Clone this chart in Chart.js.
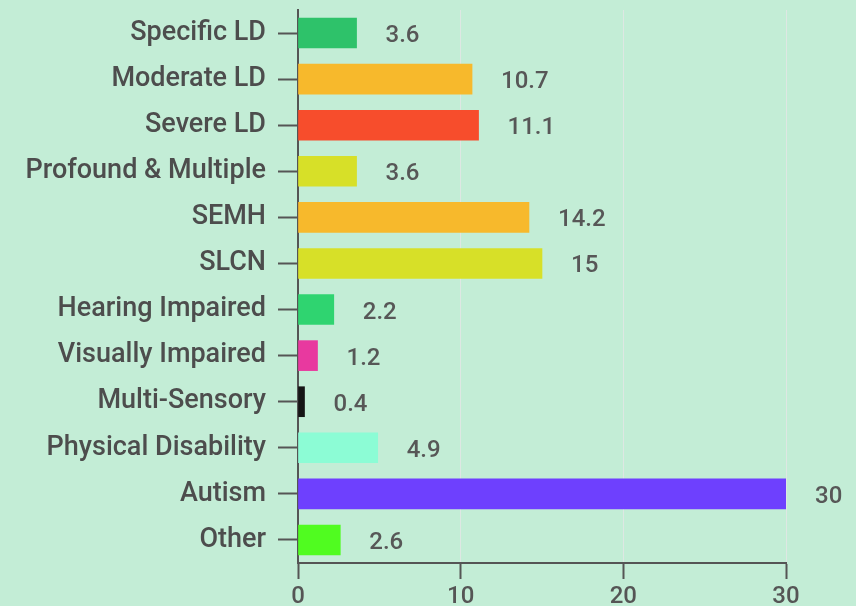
<!DOCTYPE html>
<html>
<head>
<meta charset="utf-8">
<script src="https://cdn.jsdelivr.net/npm/chart.js@4"></script>
<style>
  html, body { margin: 0; padding: 0; background: #c3edd6; overflow: hidden; }
  #wrap { width: 856px; height: 606px; position: relative; }
</style>
</head>
<body>
<div id="wrap"><canvas id="c" width="856" height="606"></canvas></div>
<script>
const categories = ["Specific LD", "Moderate LD", "Severe LD", "Profound & Multiple", "SEMH", "SLCN",
  "Hearing Impaired", "Visually Impaired", "Multi-Sensory", "Physical Disability", "Autism", "Other"];
const values = [3.6, 10.7, 11.1, 3.6, 14.2, 15, 2.2, 1.2, 0.4, 4.9, 30, 2.6];
const barColors = ["#2ec26a", "#f7b92c", "#f74d2c", "#d7e028", "#f7b92c", "#d7e028",
  "#2fd470", "#e8399f", "#151515", "#8cfcd5", "#6e40fe", "#50fc20"];
const xTicks = [0, 10, 20, 30];

const bgPlugin = {
  id: 'bg',
  beforeDraw(chart) {
    const ctx = chart.ctx;
    ctx.save();
    ctx.fillStyle = '#c3edd6';
    ctx.fillRect(0, 0, chart.width, chart.height);
    ctx.restore();
  }
};

const valueLabels = {
  id: 'valueLabels',
  afterDatasetsDraw(chart) {
    const ctx = chart.ctx;
    const meta = chart.getDatasetMeta(0);
    ctx.save();
    ctx.font = '500 24px Roboto';
    ctx.fillStyle = '#575757';
    ctx.textAlign = 'left';
    ctx.textBaseline = 'middle';
    meta.data.forEach((bar, i) => {
      ctx.fillText(String(values[i]), bar.x + 29, bar.y + 3);
    });
    ctx.restore();
  }
};

new Chart(document.getElementById('c'), {
  type: 'bar',
  data: {
    labels: categories,
    datasets: [{
      data: values,
      backgroundColor: barColors,
      borderWidth: 0,
      barThickness: 30
    }]
  },
  options: {
    indexAxis: 'y',
    responsive: false,
    animation: false,
    layout: { padding: { top: 0, right: 70, left: 0, bottom: 0 } },
    plugins: { legend: { display: false }, tooltip: { enabled: false } },
    scales: {
      y: {
        afterFit(scale) { scale.width = 298; scale.paddingTop = 10; scale.paddingBottom = 0; },
        grid: { offset: false, drawOnChartArea: false, drawTicks: true, tickLength: 20, tickColor: '#555', tickWidth: 2 },
        border: { color: '#555', width: 2 },
        ticks: { color: '#4d4d4d', font: { family: 'Roboto', size: 27, weight: '500' }, padding: 12 }
      },
      x: {
        min: 0, max: 30,
        afterFit(scale) { scale.height = 43; },
        afterBuildTicks(scale) { scale.ticks = xTicks.map(v => ({ value: v })); },
        grid: { color: 'rgba(225,230,228,0.9)', lineWidth: 1, drawTicks: true, tickLength: 16, tickColor: '#555', tickWidth: 2 },
        border: { color: '#555', width: 2 },
        ticks: { color: '#555', font: { family: 'Roboto', size: 24, weight: '500' }, padding: 4 }
      }
    }
  },
  plugins: [bgPlugin, valueLabels]
});
</script>
</body>
</html>
